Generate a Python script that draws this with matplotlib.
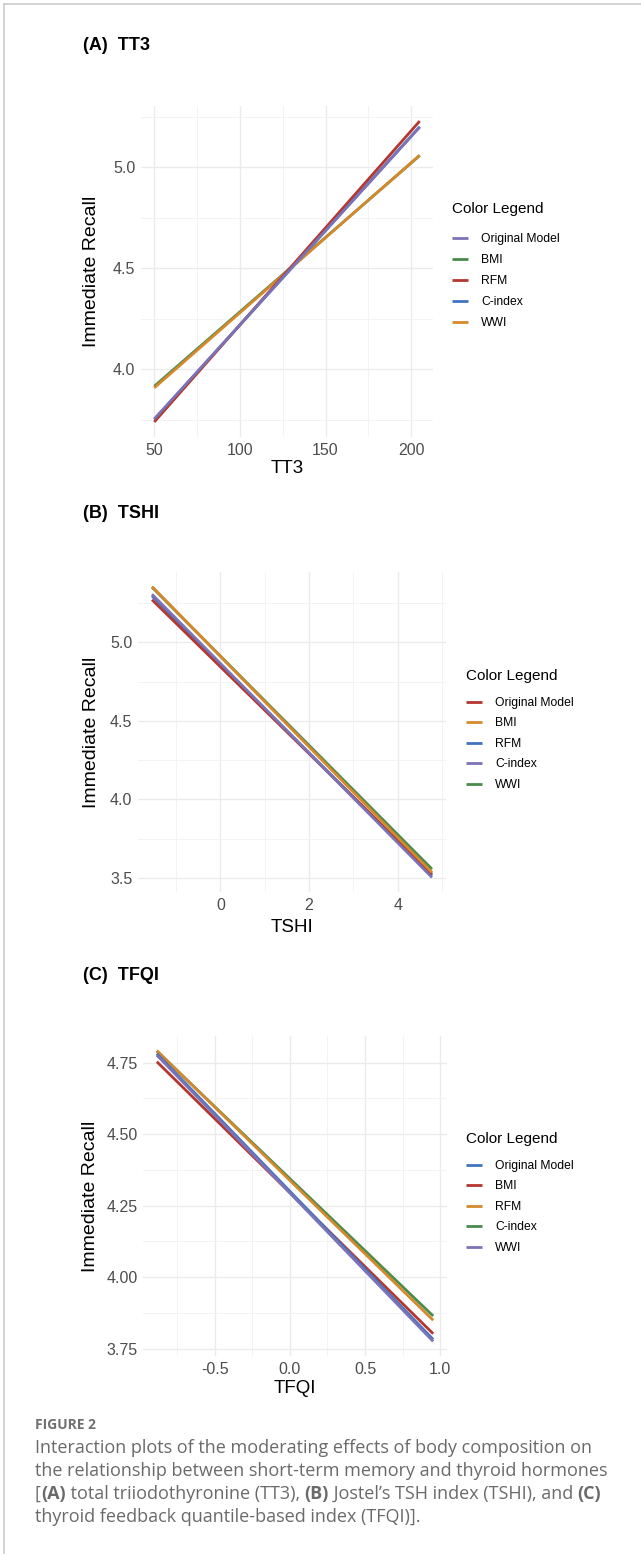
import matplotlib
matplotlib.use("Agg")
import matplotlib.pyplot as plt
from matplotlib.lines import Line2D
from matplotlib.ticker import MultipleLocator, FormatStrFormatter
from matplotlib.font_manager import FontProperties

plt.rcParams['font.family'] = ['Liberation Sans', 'DejaVu Sans']
plt.rcParams['axes.unicode_minus'] = False

W, H = 641, 1554  # output size in pixels (dpi 100)

# ---- data: each model is a straight fitted line ----
models = ["Original Model", "BMI", "RFM", "C-index", "WWI"]

tt3_x = [50, 205]
tt3_start = [3.753, 3.915, 3.738, 3.750, 3.907]
tt3_end = [5.199, 5.058, 5.229, 5.201, 5.060]

tshi_x = [-1.54, 4.77]
tshi_start = [5.270, 5.354, 5.294, 5.305, 5.350]
tshi_end = [3.525, 3.536, 3.515, 3.504, 3.557]

tfqi_x = [-0.884, 0.953]
tfqi_start = [4.781, 4.753, 4.792, 4.790, 4.776]
tfqi_end = [3.782, 3.802, 3.849, 3.864, 3.775]

# colours
PURPLE = '#7B73B8'
GREEN = '#4A8B4C'
RED = '#B4372D'
BLUE = '#3F73BF'
ORANGE = '#D5892C'

tt3_colors = [PURPLE, GREEN, RED, BLUE, ORANGE]
tshi_colors = [RED, ORANGE, BLUE, PURPLE, GREEN]
tfqi_colors = [BLUE, RED, ORANGE, GREEN, PURPLE]


def px_box(left, top, right, bottom):
    """Axes rectangle from pixel edges (origin top-left)."""
    return [left / W, 1 - bottom / H, (right - left) / W, (bottom - top) / H]


def draw_panel(fig, box, title, title_y, xs, starts, ends, colors, order,
               xlabel, xmajor, xminor, ymajor, yminor, xfmt, yfmt,
               legend_x, legend_title_y, legend_top, legend_gap,
               ylabel_x, xlabel_y):
    left = box[0] * W
    top = (1 - box[1] - box[3]) * H
    width = box[2] * W
    height = box[3] * H

    ax = fig.add_axes(box)
    lines = {}
    for z, i in enumerate(order):
        ln, = ax.plot(xs, [starts[i], ends[i]], color=colors[i], lw=2.0,
                      solid_capstyle='butt', label=models[i], zorder=3 + z)
        lines[i] = ln
    ax.margins(0.05)

    ax.xaxis.set_major_locator(MultipleLocator(xmajor))
    ax.xaxis.set_minor_locator(MultipleLocator(xminor))
    ax.yaxis.set_major_locator(MultipleLocator(ymajor))
    ax.yaxis.set_minor_locator(MultipleLocator(yminor))
    ax.xaxis.set_major_formatter(FormatStrFormatter(xfmt))
    ax.yaxis.set_major_formatter(FormatStrFormatter(yfmt))

    ax.grid(which='major', color='#EBEBEB', lw=1.0)
    ax.grid(which='minor', color='#F3F3F3', lw=0.7)
    ax.set_axisbelow(True)
    for s in ax.spines.values():
        s.set_visible(False)
    ax.tick_params(which='both', length=0)
    ax.tick_params(axis='both', labelsize=11.5, labelcolor='#4D4D4D', pad=4)

    ax.set_xlabel(xlabel, fontsize=13.5, va='center')
    ax.xaxis.set_label_coords(0.5, -(xlabel_y - (top + height)) / height)
    ax.set_ylabel("Immediate Recall", fontsize=14, va='center')
    ax.yaxis.set_label_coords(-(left - ylabel_x) / width, 0.5)

    fig.text(83 / W, 1 - title_y / H, title, fontsize=13, fontweight='bold',
             va='center', ha='left')

    # legend
    fig.text(legend_x / W, 1 - legend_title_y / H, "Color Legend",
             fontsize=11, va='center', ha='left')
    ax.legend(handles=[lines[i] for i in range(len(models))],
              loc='upper left', bbox_to_anchor=(legend_x / W, 1 - legend_top / H),
              bbox_transform=fig.transFigure, frameon=False, borderpad=0,
              borderaxespad=0, fontsize=8.7, handlelength=1.3,
              handletextpad=1.1, labelspacing=legend_gap)
    return ax


fig = plt.figure(figsize=(W / 100, H / 100), dpi=100)
fig.patch.set_facecolor('white')

# (A) TT3
draw_panel(fig, px_box(141, 106, 433, 437), "(A)  TT3", 45,
           tt3_x, tt3_start, tt3_end, tt3_colors, [3, 1, 4, 2, 0],
           "TT3", 50, 25, 0.5, 0.25, '%d', '%.1f',
           legend_x=452, legend_title_y=209, legend_top=233, legend_gap=0.75,
           ylabel_x=91, xlabel_y=469)

# (B) TSHI
draw_panel(fig, px_box(138, 572, 446, 892), "(B)  TSHI", 513,
           tshi_x, tshi_start, tshi_end, tshi_colors, [4, 2, 0, 1, 3],
           "TSHI", 2, 1, 0.5, 0.25, '%d', '%.1f',
           legend_x=466, legend_title_y=676, legend_top=697, legend_gap=0.7,
           ylabel_x=91, xlabel_y=928)

# (C) TFQI
draw_panel(fig, px_box(143, 1036, 447, 1356), "(C)  TFQI", 975,
           tfqi_x, tfqi_start, tfqi_end, tfqi_colors, [3, 2, 1, 0, 4],
           "TFQI", 0.5, 0.25, 0.25, 0.125, '%.1f', '%.2f',
           legend_x=466, legend_title_y=1139, legend_top=1160, legend_gap=0.7,
           ylabel_x=91, xlabel_y=1389)

# frame lines around the figure card
fig.add_artist(Line2D([4 / W, 1], [1 - 4 / H, 1 - 4 / H], transform=fig.transFigure,
                      color='#C8C8C8', lw=1.1))
fig.add_artist(Line2D([4 / W, 4 / W], [0, 1 - 4 / H], transform=fig.transFigure,
                      color='#C8C8C8', lw=1.1))

# ---- caption with mixed weights ----
renderer = fig.canvas.get_renderer()
cap_color = '#6A6A6A'
reg = FontProperties(family=['Open Sans', 'DejaVu Sans'], size=13)
bold = FontProperties(family=['Open Sans', 'DejaVu Sans'], size=13, weight='bold')


def text_width(s, prop):
    w1, _, _ = renderer.get_text_width_height_descent("|" + s + "|", prop, ismath=False)
    w0, _, _ = renderer.get_text_width_height_descent("||", prop, ismath=False)
    return w1 - w0


def rich_line(x_px, y_px, segments):
    x = x_px
    for seg, is_bold in segments:
        prop = bold if is_bold else reg
        fig.text(x / W, 1 - y_px / H, seg, fontproperties=prop, color=cap_color,
                 va='center', ha='left')
        x += text_width(seg, prop)


fig.text(35 / W, 1 - 1425 / H, "FIGURE 2", fontsize=10, fontweight='bold',
         family=['Open Sans', 'DejaVu Sans'], color='#707070', va='center', ha='left')
rich_line(35, 1448, [("Interaction plots of the moderating effects of body composition on", False)])
rich_line(35, 1471, [("the relationship between short-term memory and thyroid hormones", False)])
rich_line(35, 1494, [("[", False), ("(A)", True), (" total triiodothyronine (TT3), ", False),
                     ("(B)", True), (" Jostel\u2019s TSH index (TSHI), and ", False), ("(C)", True)])
rich_line(35, 1517, [("thyroid feedback quantile-based index (TFQI)].", False)])

fig.savefig("out.png", dpi=100, facecolor='white')
